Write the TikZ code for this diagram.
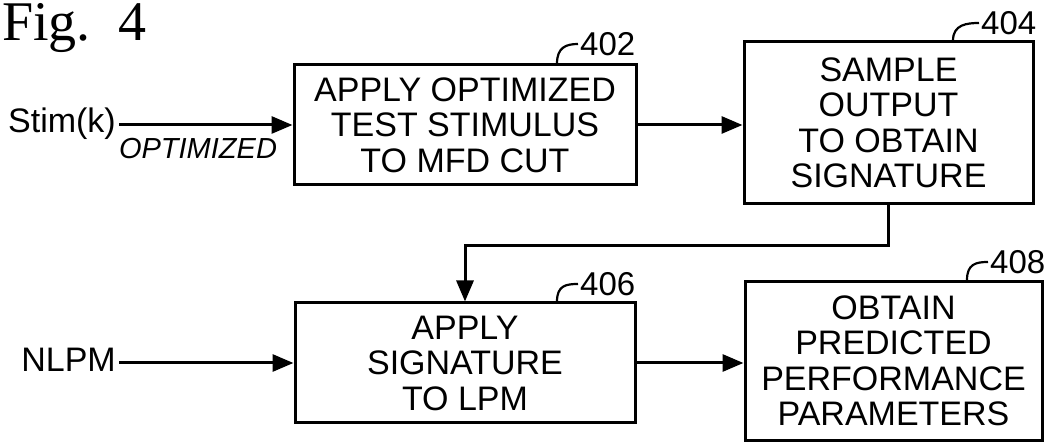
\documentclass[tikz,border=0pt]{standalone}
\usepackage{fontspec}
\setmainfont{Liberation Sans}
\newfontfamily\figfont{Liberation Serif}
\usetikzlibrary{arrows.meta,positioning}

\begin{document}
\begin{tikzpicture}[
    x=1pt,y=-1pt,
    bloc/.style = {rectangle,draw=black,line width=3pt,align=center,
                   font=\fontsize{34}{35.5}\selectfont,inner sep=0pt},
    fl/.style   = {-{Triangle[length=21pt,width=17pt]},line width=3pt},
    lead/.style = {line width=2.2pt},
    num/.style  = {font=\fontsize{33}{33}\selectfont,inner sep=0pt,anchor=west},
    lab/.style  = {font=\fontsize{34}{34}\selectfont,inner sep=0pt},
  ]
  \useasboundingbox (0,0) rectangle (1050,443);

  \node[anchor=base west,inner sep=0pt,font=\figfont\fontsize{56}{56}\selectfont]
       (fig) at (2,41) {Fig.\hspace{0.5em}4};

  % Blocs
  \node[bloc,minimum width=342pt,minimum height=120pt] (apply)    at (465,125)
       {APPLY OPTIMIZED\\TEST STIMULUS\\TO MFD CUT};
  \node[bloc,minimum width=289pt,minimum height=162pt] (sample)   at (888.5,123)
       {SAMPLE\\OUTPUT\\TO OBTAIN\\SIGNATURE};
  \node[bloc,minimum width=340pt,minimum height=120pt] (applysig) at (465,363)
       {APPLY\\SIGNATURE\\TO LPM};
  \node[bloc,minimum width=297pt,minimum height=159pt] (obtain)   at (893.5,361)
       {OBTAIN\\PREDICTED\\PERFORMANCE\\PARAMETERS};

  % Entrees
  \node[lab,anchor=base east] (stim) at (116,133) {Stim(k)};
  \node[lab,anchor=base,font=\itshape\fontsize{29}{29}\selectfont] (opt) at (198,159) {OPTIMIZED};
  \node[lab,anchor=base east] (nlpm) at (116,372) {NLPM};

  % Fleches
  \draw[fl] ([xshift=3pt]apply.west -| stim.east) -- (apply.west);
  \draw[fl] (apply.east) -- (apply.east -| sample.west);
  \coordinate (turn) at (888.5,246);
  \draw[fl] (sample.south) -- (turn) -| (applysig.north);
  \draw[fl] ([xshift=3pt]applysig.west -| nlpm.east) -- (applysig.west);
  \draw[fl] (applysig.east) -- (applysig.east -| obtain.west);

  % Reperes
  \node[num] (n402) at (580,44)  {402};
  \node[num] (n404) at (981,23)  {404};
  \node[num] (n406) at (580,284) {406};
  \node[num] (n408) at (990,262) {408};
  \draw[lead] ([xshift=92pt]apply.north)    .. controls +(0,-16) and +(-12,0) .. ([xshift=-2pt]n402.west);
  \draw[lead] ([xshift=64.5pt]sample.north) .. controls +(0,-16) and +(-12,0) .. ([xshift=-2pt]n404.west);
  \draw[lead] ([xshift=92pt]applysig.north) .. controls +(0,-16) and +(-12,0) .. ([xshift=-2pt]n406.west);
  \draw[lead] ([xshift=73.5pt]obtain.north) .. controls +(0,-16) and +(-12,0) .. ([xshift=-2pt]n408.west);

\end{tikzpicture}
\end{document}
